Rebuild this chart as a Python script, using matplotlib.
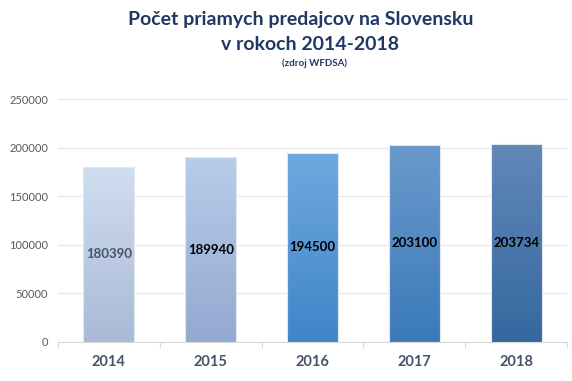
import numpy as np
import matplotlib
matplotlib.use("Agg")
import matplotlib.pyplot as plt
from matplotlib.colors import LinearSegmentedColormap

plt.rcParams['font.family'] = ['Lato', 'DejaVu Sans']

# ── Dáta ─────────────────────────────────────────────────────────────────────
roky      = ['2014', '2015', '2016', '2017', '2018']
predajcov = [180390, 189940, 194500, 203100, 203734]

# farby prechodu (hore, dole) a farba popisu pre každý stĺpec
farby_hore  = ['#D0DEF1', '#B8CDEA', '#70A8E0', '#6A9ACC', '#6288B8']
farby_dole  = ['#AAB9D5', '#93A9D0', '#3F86C9', '#3B7ABA', '#35689F']
farby_popis = ['#44546A', '#000000', '#000000', '#000000', '#000000']

NAVY = '#1F3864'
SEDA = '#44546A'

fig = plt.figure(figsize=(5.72, 3.81), dpi=100)
ax = fig.add_axes([58/572, 39/381, 509/572, 243/381])

x = np.arange(len(roky))
sirka = 0.5
grad = np.linspace(0, 1, 256).reshape(-1, 1)

bars = ax.bar(x, predajcov, width=sirka, facecolor='none',
              edgecolor='#E3E8EF', linewidth=0.8, zorder=4)
for i, (b, h) in enumerate(zip(bars, predajcov)):
    cmap = LinearSegmentedColormap.from_list(f'g{i}', [farby_dole[i], farby_hore[i]])
    x0 = b.get_x()
    im = ax.imshow(grad, extent=[x0, x0 + sirka, 0, h], origin='lower',
                   aspect='auto', cmap=cmap, interpolation='bilinear', zorder=3)
    im.set_clip_path(b)
    # popis v strede stĺpca
    ax.text(x0 + sirka/2, h / 2, f'{h}', ha='center', va='center',
            fontsize=9.5, fontweight='bold', color=farby_popis[i], zorder=5)

ax.set_xlim(-0.5, len(roky) - 0.5)
ax.set_ylim(0, 250000)
ax.set_yticks(np.arange(0, 250001, 50000))
ax.set_yticklabels([str(v) for v in range(0, 250001, 50000)])
ax.set_xticks(x)
ax.set_xticklabels(roky, fontsize=10.5, fontweight='bold', color=SEDA)
ax.set_xticks(np.arange(-0.5, len(roky), 1), minor=True)
ax.tick_params(axis='x', which='major', length=0, pad=9)
ax.tick_params(axis='x', which='minor', length=4, color='#D9D9D9', width=0.8)
ax.tick_params(axis='y', length=0, labelsize=8, labelcolor='#595959', pad=7)

ax.grid(axis='y', color='#E6E6E6', linewidth=0.8, zorder=0)
for s in ['top', 'right', 'left']:
    ax.spines[s].set_visible(False)
ax.spines['bottom'].set_color('#D9D9D9')
ax.spines['bottom'].set_linewidth(0.8)

fig.text(301/572, 1 - 20/381, 'Počet priamych predajcov na Slovensku',
         ha='center', va='center', fontsize=14, fontweight='bold', color=NAVY)
fig.text(310/572, 1 - 45/381, 'v rokoch 2014-2018',
         ha='center', va='center', fontsize=14, fontweight='bold', color=NAVY)
fig.text(315/572, 1 - 63/381, '(zdroj WFDSA)',
         ha='center', va='center', fontsize=7, fontweight='bold', color=NAVY)

fig.savefig('out.png', dpi=100)
